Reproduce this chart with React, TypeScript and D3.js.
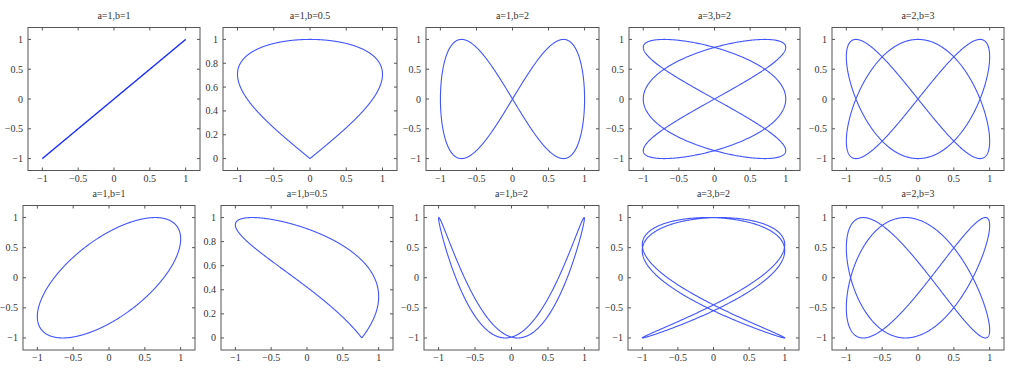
import React from "react";
import * as d3 from "d3";

const titles = ["a=1,b=1", "a=1,b=0.5", "a=1,b=2", "a=3,b=2", "a=2,b=3"];
const aValues = [1, 1, 1, 3, 2];
const bValues = [1, 0.5, 2, 2, 3];
const rowDeltas = [0, 0.87]; // phase shift of x for each row
const xTicks = [-1, -0.5, 0, 0.5, 1];
const yTicksFull = [-1, -0.5, 0, 0.5, 1];
const yTicksHalf = [0, 0.2, 0.4, 0.6, 0.8, 1];
const SAMPLES = 1200;

const W = 1022;
const H = 370;
const rowLayout = [
  { top: 27.5, bottom: 170.5, titleY: 18.5, lefts: [28, 223, 426, 629, 832], rights: [200, 397, 599, 800, 1004] },
  { top: 205.5, bottom: 350, titleY: 196.5, lefts: [23, 221, 424, 628, 832], rights: [195, 393, 599, 799, 1004] },
];

const FONT = "'Liberation Serif', 'Times New Roman', Times, serif";

const fmt = (v: number) => {
  const s = String(Math.round(v * 10) / 10);
  return s.replace("-", "\u2212");
};

const LINE = "#4255ff";
const FRAME = "#555";

function Panel({ row, col }: { row: number; col: number }) {
  const L = rowLayout[row];
  const x0 = L.lefts[col], x1 = L.rights[col];
  const a = aValues[col], b = bValues[col];
  const delta = rowDeltas[row];
  const half = b === 0.5;
  const x = d3.scaleLinear().domain([-1.2, 1.2]).range([x0, x1]);
  const y = d3.scaleLinear().domain(half ? [-0.1, 1.1] : [-1.2, 1.2]).range([L.bottom, L.top]);
  const yTicks = half ? yTicksHalf : yTicksFull;
  const ts = d3.range(SAMPLES + 1).map((i) => (i / SAMPLES) * 2 * Math.PI);
  const pts: [number, number][] = ts.map((t) => [Math.sin(a * t + delta), Math.sin(b * t)]);
  const line = d3.line<[number, number]>().x((d) => x(d[0])).y((d) => y(d[1]));
  const tl = 3;
  const degenerate = row === 0 && a === b;
  return (
    <g>
      <text x={(x0 + x1) / 2} y={L.titleY} textAnchor="middle" fontSize={10} fill="#333" style={{ fontFamily: FONT }}>
        {titles[col]}
      </text>
      <path d={line(pts) || ""} fill="none" stroke={degenerate ? "#1a2eff" : LINE} strokeWidth={degenerate ? 1.4 : 1.1} />
      <rect x={x0} y={L.top} width={x1 - x0} height={L.bottom - L.top} fill="none" stroke={FRAME} strokeWidth={1} />
      {xTicks.map((v) => (
        <g key={"x" + v}>
          <line x1={x(v)} x2={x(v)} y1={L.bottom} y2={L.bottom - tl} stroke={FRAME} />
          <line x1={x(v)} x2={x(v)} y1={L.top} y2={L.top + tl} stroke={FRAME} />
          <text x={x(v)} y={L.bottom + 11} textAnchor="middle" fontSize={10} fill="#333" style={{ fontFamily: FONT }}>
            {fmt(v)}
          </text>
        </g>
      ))}
      {yTicks.map((v) => (
        <g key={"y" + v}>
          <line x1={x0} x2={x0 + tl} y1={y(v)} y2={y(v)} stroke={FRAME} />
          <line x1={x1} x2={x1 - tl} y1={y(v)} y2={y(v)} stroke={FRAME} />
          <text x={x0 - 5} y={y(v) + 3.5} textAnchor="end" fontSize={10} fill="#333" style={{ fontFamily: FONT }}>
            {fmt(v)}
          </text>
        </g>
      ))}
    </g>
  );
}

export default function App() {
  return (
    <svg width={W} height={H} style={{ position: "absolute", left: 0, top: 0, background: "#fff" }}>
      <rect width={W} height={H} fill="#fff" />
      {[0, 1].map((r) => titles.map((_, c) => <Panel key={r + "-" + c} row={r} col={c} />))}
    </svg>
  );
}
